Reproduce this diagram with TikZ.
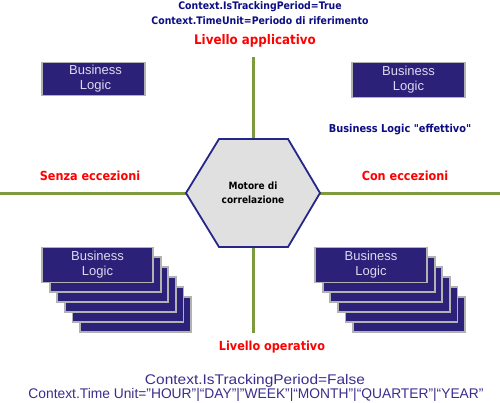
\documentclass[tikz,border=0pt]{standalone}
\usepackage{fontspec}
\usepackage{graphicx}
\setmainfont{Liberation Sans}
\newfontfamily\pixfont{DejaVu Sans Condensed}
\definecolor{axisgreen}{HTML}{7E9A3E}
\definecolor{boxfill}{HTML}{2C2178}
\definecolor{boxedge}{HTML}{B2B2B2}
\definecolor{boxtext}{HTML}{DCDAF0}
\definecolor{hexfill}{HTML}{E0E0E0}
\definecolor{hexedge}{HTML}{26268A}
\definecolor{navytext}{HTML}{0C0C84}
\definecolor{bottomtext}{HTML}{3A2E8C}
\tikzset{
  axisline/.style={draw=axisgreen, line width=3pt},
  blbox/.style={draw=boxedge, fill=boxfill, line width=1.8pt, inner sep=0pt,
     text=boxtext, align=center, font=\fontsize{13}{15}\selectfont},
  redlabel/.style={text=red, font=\pixfont\bfseries\fontsize{12.5}{14}\selectfont, inner sep=0pt},
  toplabel/.style={text=navytext, font=\pixfont\bfseries\fontsize{10.4}{12}\selectfont, inner sep=0pt},
  botlabel/.style={text=bottomtext, font=\fontsize{14}{16}\selectfont, inner sep=0pt},
}
\begin{document}
\begin{tikzpicture}[x=1pt,y=-1pt]
\useasboundingbox (0,0) rectangle (500,402);
\fill[white] (0,0) rectangle (500,402);
% axes
\coordinate (hl) at (0,193);
\coordinate (hr) at (500,193);
\coordinate (vt) at (253,57);
\coordinate (vb) at (253,333);
\draw[axisline] (hl) -- (hr);
\draw[axisline] (vt) -- (vb);
% hexagon
\draw[draw=hexedge, fill=hexfill, line width=1.8pt, line join=miter]
  (186,193) -- (219,139) -- (288,139) -- (320,193) -- (288,247) -- (219,247) -- cycle;
\node[align=center, inner sep=0pt, font=\pixfont\bfseries\fontsize{10}{14}\selectfont] (engine) at (253,193) {Motore di\\correlazione};
% top boxes
\node[blbox, minimum width=103pt, minimum height=33pt] (tl) at (93.5,79) {\hspace*{4pt}Business\\\hspace*{4pt}Logic};
\node[blbox, minimum width=113pt, minimum height=35pt] (tr) at (408.5,80) {Business\\Logic};
% bottom-left stack
\foreach \i in {5,4,3,2,1}
  \node[blbox, minimum width=111pt, minimum height=35pt] (bl\i) at (97.5+7.6*\i,264.5+10*\i) {};
\node[blbox, minimum width=111pt, minimum height=35pt] (bl0) at (97.5,265) {Business\\Logic};
% bottom-right stack
\foreach \i in {5,4,3,2,1}
  \node[blbox, minimum width=112pt, minimum height=35pt] (br\i) at (371+7.6*\i,264.5+10*\i) {};
\node[blbox, minimum width=112pt, minimum height=35pt] (br0) at (371,265) {Business\\Logic};
% labels
\node[toplabel] (ctx1) at (260,7) {Context.IsTrackingPeriod=True};
\node[toplabel] (ctx2) at (260,21) {Context.TimeUnit=Periodo di riferimento};
\node[redlabel, font=\pixfont\bfseries\fontsize{13.2}{14}\selectfont] (lapp) at (255,41) {Livello applicativo};
\node[redlabel] (senza) at (90,176) {Senza eccezioni};
\node[redlabel] (con) at (405,176) {Con eccezioni};
\node[redlabel] (lop) at (272,347) {Livello operativo};
\node[toplabel, font=\pixfont\bfseries\fontsize{10.9}{12}\selectfont] (eff) at (400,130) {Business Logic "effettivo"};
\node[botlabel] (ctx3) at (255,381) {\resizebox{220pt}{\height}{Context.IsTrackingPeriod=False}};
\node[botlabel] (ctx4) at (256,395) {\resizebox{455pt}{\height}{Context.Time Unit="HOUR"|“DAY"|"WEEK"|“MONTH"|“QUARTER"|“YEAR"}};
\end{tikzpicture}
\end{document}
